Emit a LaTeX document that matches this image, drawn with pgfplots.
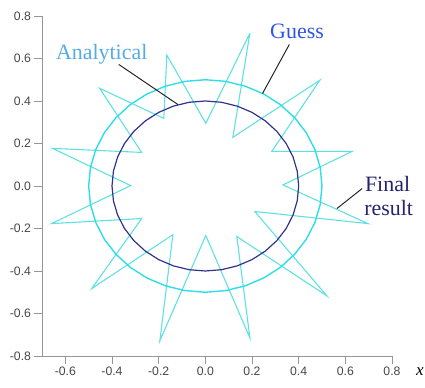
\documentclass[border=0pt]{standalone}
\usepackage{pgfplots}
\pgfplotsset{compat=1.18}
\usepackage{fontspec}
\setmainfont{Liberation Serif}
\setsansfont{Liberation Sans}

\definecolor{starcyan}{RGB}{95,225,225}
\definecolor{guesscyan}{RGB}{45,222,230}
\definecolor{navyline}{RGB}{50,50,140}
\definecolor{txtanalytical}{RGB}{85,172,228}
\definecolor{txtguess}{RGB}{45,85,230}
\definecolor{txtfinal}{RGB}{35,35,110}
\definecolor{axisgray}{RGB}{150,150,150}
\definecolor{labelgray}{RGB}{70,70,70}

\begin{document}
\begin{tikzpicture}
\begin{axis}[
  name=ax, anchor=south west, at={(0,0)},
  scale only axis, width=350bp, height=340bp,
  xmin=-0.7, xmax=0.8, ymin=-0.8, ymax=0.8,
  axis lines=left,
  axis line style={-, axisgray, line width=0.9pt},
  tick style={axisgray, line width=0.9pt},
  tick align=outside, major tick length=7.5bp,
  xtick={-0.6,-0.4,-0.2,0,0.2,0.4,0.6,0.8},
  xticklabels={-0.6,-0.4,-0.2,0.0,0.2,0.4,0.6,0.8},
  ytick={-0.8,-0.6,-0.4,-0.2,0,0.2,0.4,0.6,0.8},
  yticklabels={-0.8,-0.6,-0.4,-0.2,0.0,0.2,0.4,0.6,0.8},
  tick label style={font=\sffamily\fontsize{12.3}{14}\selectfont, text=labelgray},
  xlabel={\textit{x}},
  xlabel style={at={(axis description cs:1,0)}, anchor=center,
    xshift=28bp, yshift=-16bp, font=\rmfamily\fontsize{17}{19}\selectfont},
  clip=false,
]
% star-shaped trial contour
\addplot[starcyan, line width=1.1pt] coordinates {
(0.191,0.719) (0.118,0.229) (0.491,0.498) (0.285,0.163) (0.629,0.163)
(0.333,0.005) (0.697,-0.177) (0.212,-0.120) (0.521,-0.517) (0.135,-0.238)
(0.191,-0.715) (0.002,-0.233) (-0.195,-0.729) (-0.139,-0.229) (-0.487,-0.483)
(-0.273,-0.153) (-0.659,-0.177) (-0.320,0.002) (-0.655,0.177) (-0.273,0.158)
(-0.453,0.460) (-0.178,0.318) (-0.165,0.616) (0.002,0.295) (0.191,0.719)
};
% circle of radius 0.5
\addplot[guesscyan, line width=1.4pt] coordinates {
(0.5000,0.0000) (0.4924,0.0868) (0.4698,0.1710) (0.4330,0.2500) (0.3830,0.3214)
(0.3214,0.3830) (0.2500,0.4330) (0.1710,0.4698) (0.0868,0.4924) (0.0000,0.5000)
(-0.0868,0.4924) (-0.1710,0.4698) (-0.2500,0.4330) (-0.3214,0.3830) (-0.3830,0.3214)
(-0.4330,0.2500) (-0.4698,0.1710) (-0.4924,0.0868) (-0.5000,0.0000) (-0.4924,-0.0868)
(-0.4698,-0.1710) (-0.4330,-0.2500) (-0.3830,-0.3214) (-0.3214,-0.3830) (-0.2500,-0.4330)
(-0.1710,-0.4698) (-0.0868,-0.4924) (0.0000,-0.5000) (0.0868,-0.4924) (0.1710,-0.4698)
(0.2500,-0.4330) (0.3214,-0.3830) (0.3830,-0.3214) (0.4330,-0.2500) (0.4698,-0.1710)
(0.4924,-0.0868) (0.5000,0.0000)
};
% circle of radius 0.4
\addplot[navyline, line width=1.2pt] coordinates {
(0.4000,0.0000) (0.3939,0.0695) (0.3759,0.1368) (0.3464,0.2000) (0.3064,0.2571)
(0.2571,0.3064) (0.2000,0.3464) (0.1368,0.3759) (0.0695,0.3939) (0.0000,0.4000)
(-0.0695,0.3939) (-0.1368,0.3759) (-0.2000,0.3464) (-0.2571,0.3064) (-0.3064,0.2571)
(-0.3464,0.2000) (-0.3759,0.1368) (-0.3939,0.0695) (-0.4000,0.0000) (-0.3939,-0.0695)
(-0.3759,-0.1368) (-0.3464,-0.2000) (-0.3064,-0.2571) (-0.2571,-0.3064) (-0.2000,-0.3464)
(-0.1368,-0.3759) (-0.0695,-0.3939) (0.0000,-0.4000) (0.0695,-0.3939) (0.1368,-0.3759)
(0.2000,-0.3464) (0.2571,-0.3064) (0.3064,-0.2571) (0.3464,-0.2000) (0.3759,-0.1368)
(0.3939,-0.0695) (0.4000,0.0000)
};
% leader lines for the annotations
\addplot[black!85, line width=1pt] coordinates {(-0.371,0.572) (-0.117,0.383)};
\addplot[black!85, line width=1pt] coordinates {(0.360,0.666) (0.245,0.435)};
\addplot[black!85, line width=1pt] coordinates {(0.672,-0.012) (0.564,-0.106)};
% annotations
\node[anchor=base, text=txtanalytical, font=\rmfamily\fontsize{22}{24}\selectfont, inner sep=0pt]
  at (axis cs:-0.444,0.597) {Analytical};
\node[anchor=base, text=txtguess, font=\rmfamily\fontsize{22}{24}\selectfont, inner sep=0pt]
  at (axis cs:0.393,0.694) {Guess};
\node[anchor=base, text=txtfinal, font=\rmfamily\fontsize{22}{24}\selectfont, inner sep=0pt]
  at (axis cs:0.781,-0.026) {Final};
\node[anchor=base, text=txtfinal, font=\rmfamily\fontsize{22}{24}\selectfont, inner sep=0pt]
  at (axis cs:0.786,-0.139) {result};
\end{axis}
\pgfresetboundingbox
\path[use as bounding box] (-42bp,-32bp) rectangle (383bp,356bp);
\end{tikzpicture}
\end{document}
